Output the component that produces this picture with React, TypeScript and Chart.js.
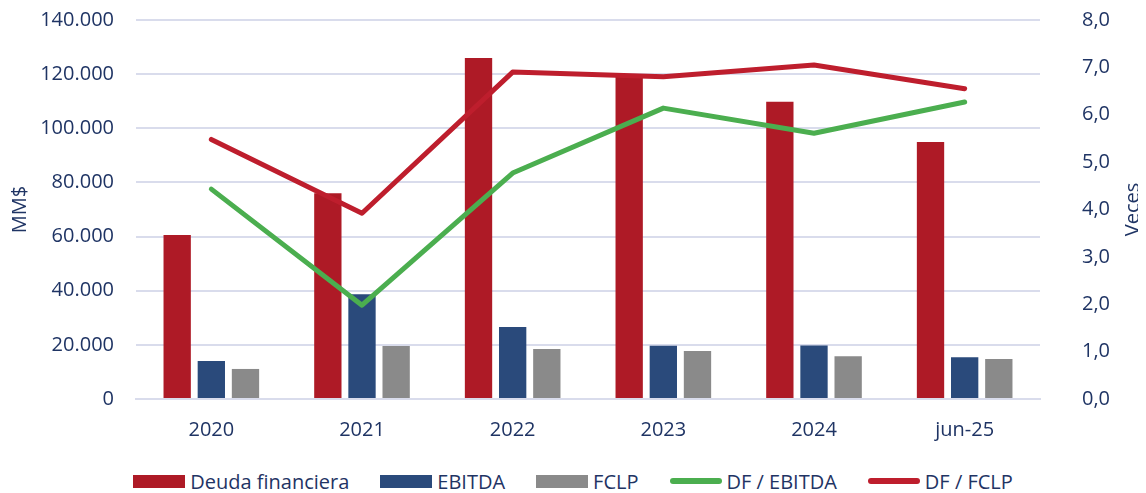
import React, { useEffect, useRef } from "react";
import { Chart, registerables } from "chart.js";

Chart.register(...registerables);

const categories = ["2020", "2021", "2022", "2023", "2024", "jun-25"];
const deudaFinanciera = [60600, 76000, 126000, 119600, 109800, 94900];
const ebitda = [14000, 38700, 26600, 19700, 19800, 15400];
const fclp = [11100, 19600, 18500, 17700, 15800, 14800];
const dfEbitda = [4.43, 1.98, 4.77, 6.14, 5.61, 6.27];
const dfFclp = [5.48, 3.92, 6.9, 6.8, 7.05, 6.55];

const leftTicks = [0, 20000, 40000, 60000, 80000, 100000, 120000, 140000];
const rightTicks = [0, 1, 2, 3, 4, 5, 6, 7, 8];

const RED = "#AE1A26";
const NAVY = "#2A4A7B";
const GRAY = "#8A8A8A";
const GREEN = "#4BAE4F";
const LINE_RED = "#BE1E2D";
const TEXT = "#1F3464";
const GRID = "#D9DCEC";
const FONT = "'Open Sans', 'Noto Sans', sans-serif";
const FS = 20;
const RIGHT_TITLE = "Veces";

const legendItems = [
  { label: "Deuda financiera", color: RED, type: "box" },
  { label: "EBITDA", color: NAVY, type: "box" },
  { label: "FCLP", color: GRAY, type: "box" },
  { label: "DF / EBITDA", color: GREEN, type: "line" },
  { label: "DF / FCLP", color: LINE_RED, type: "line" },
];

function fmtThousands(v: number) {
  return Math.round(v).toString().replace(/\B(?=(\d{3})+(?!\d))/g, ".");
}

const rightTitlePlugin = {
  id: "rightTitle",
  afterDraw(chart: any) {
    const ctx = chart.ctx;
    const s = chart.scales.y1;
    const x = s.right - 5;
    const y = (chart.chartArea.top + chart.chartArea.bottom) / 2;
    ctx.save();
    ctx.translate(x, y);
    ctx.rotate(-Math.PI / 2);
    ctx.fillStyle = TEXT;
    ctx.font = `${FS}px ${FONT}`;
    ctx.textAlign = "center";
    ctx.textBaseline = "middle";
    ctx.fillText(RIGHT_TITLE, 0, 0);
    ctx.restore();
  },
};

export default function App() {
  const ref = useRef<HTMLCanvasElement | null>(null);
  useEffect(() => {
    if (!ref.current) return;
    const chart = new Chart(ref.current, {
      type: "bar",
      data: {
        labels: categories,
        datasets: [
          { type: "bar", label: "Deuda financiera", data: deudaFinanciera, backgroundColor: RED, yAxisID: "y", order: 1, categoryPercentage: 0.68, barPercentage: 0.8 },
          { type: "bar", label: "EBITDA", data: ebitda, backgroundColor: NAVY, yAxisID: "y", order: 1, categoryPercentage: 0.68, barPercentage: 0.8 },
          { type: "bar", label: "FCLP", data: fclp, backgroundColor: GRAY, yAxisID: "y", order: 1, categoryPercentage: 0.68, barPercentage: 0.8 },
          { type: "line", label: "DF / EBITDA", data: dfEbitda, borderColor: GREEN, backgroundColor: GREEN, borderWidth: 5, pointRadius: 0, borderCapStyle: "round", borderJoinStyle: "round", yAxisID: "y1", order: 0 },
          { type: "line", label: "DF / FCLP", data: dfFclp, borderColor: LINE_RED, backgroundColor: LINE_RED, borderWidth: 5, pointRadius: 0, borderCapStyle: "round", borderJoinStyle: "round", yAxisID: "y1", order: 0 },
        ] as any,
      },
      options: {
        animation: false,
        responsive: false,
        maintainAspectRatio: false,
        layout: { padding: { top: 0, left: 0, right: 0, bottom: 0 } },
        plugins: { legend: { display: false }, tooltip: { enabled: false } },
        scales: {
          x: {
            grid: { display: false, drawTicks: false },
            border: { display: true, color: GRID, width: 2 },
            ticks: { color: TEXT, font: { family: FONT, size: FS }, padding: 19 },
            afterFit: (s: any) => { s.height = 50; },
          },
          y: {
            position: "left",
            min: 0,
            max: 140000,
            afterBuildTicks: (s: any) => { s.ticks = leftTicks.map((v) => ({ value: v })); },
            grid: { color: GRID, lineWidth: 2, drawTicks: false },
            border: { display: false },
            ticks: { color: TEXT, font: { family: FONT, size: FS }, padding: 22, callback: (v: any) => fmtThousands(Number(v)) },
            title: { display: true, text: "MM$", color: TEXT, font: { family: FONT, size: FS }, padding: { top: 0, bottom: 0 } },
            afterFit: (s: any) => { s.width = 128; s.paddingTop = 12; s.paddingBottom = 12; },
          },
          y1: {
            position: "right",
            min: 0,
            max: 8,
            afterBuildTicks: (s: any) => { s.ticks = rightTicks.map((v) => ({ value: v })); },
            grid: { display: false, drawTicks: false },
            border: { display: false },
            ticks: { color: TEXT, font: { family: FONT, size: FS }, padding: 42, callback: (v: any) => Number(v).toFixed(1).replace(".", ",") },
            title: { display: false },
            afterFit: (s: any) => { s.width = 98; s.paddingTop = 12; s.paddingBottom = 12; },
          },
        },
      } as any,
      plugins: [rightTitlePlugin],
    });
    return () => chart.destroy();
  }, []);

  return (
    <div style={{ width: 1130, fontFamily: FONT }}>
      <canvas ref={ref} width={1130} height={441} style={{ display: "block", width: 1130, height: 441 }} />
      <div style={{ display: "flex", justifyContent: "center", alignItems: "center", gap: 31, marginTop: 19, height: 26, color: TEXT, fontSize: FS }}>
        {legendItems.map((it) => (
          <div key={it.label} style={{ display: "flex", alignItems: "center" }}>
            {it.type === "box" ? (
              <span style={{ display: "inline-block", width: 52, height: 13, background: it.color, marginRight: 5 }} />
            ) : (
              <span style={{ display: "inline-block", width: 52, height: 6, borderRadius: 3, background: it.color, marginRight: 5 }} />
            )}
            <span>{it.label}</span>
          </div>
        ))}
      </div>
    </div>
  );
}
